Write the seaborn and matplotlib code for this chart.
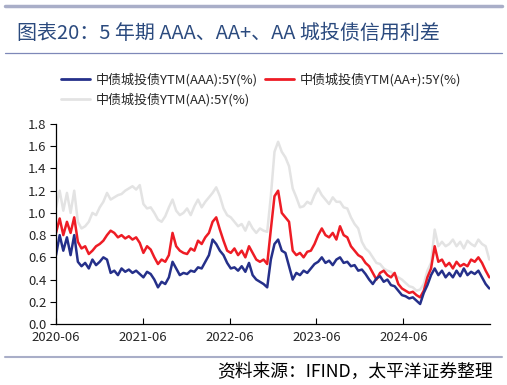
import pandas as pd
import matplotlib.pyplot as plt
import matplotlib.dates as mdates
import seaborn as sns

# semi-monthly readings, Jun 2020 -> May 2025 (2 per month)
aaa = [0.62, 0.80, 0.66, 0.78, 0.62, 0.80, 0.56, 0.52, 0.55, 0.50, 0.58, 0.53,
       0.56, 0.60, 0.58, 0.46, 0.48, 0.44, 0.50, 0.47, 0.49, 0.46, 0.48, 0.45,
       0.42, 0.47, 0.45, 0.40, 0.33, 0.38, 0.36, 0.42, 0.56, 0.50, 0.44, 0.46,
       0.45, 0.48, 0.47, 0.51, 0.50, 0.56, 0.62, 0.76, 0.72, 0.66, 0.62, 0.55,
       0.50, 0.51, 0.48, 0.52, 0.47, 0.55, 0.44, 0.40, 0.38, 0.36, 0.33, 0.58,
       0.72, 0.76, 0.66, 0.64, 0.52, 0.40, 0.46, 0.44, 0.48, 0.46, 0.50, 0.54,
       0.56, 0.60, 0.55, 0.57, 0.53, 0.58, 0.60, 0.55, 0.56, 0.52, 0.53, 0.48,
       0.49, 0.45, 0.40, 0.36, 0.41, 0.43, 0.38, 0.40, 0.35, 0.34, 0.30, 0.26,
       0.25, 0.23, 0.24, 0.21, 0.18, 0.28, 0.35, 0.44, 0.50, 0.44, 0.48, 0.42,
       0.46, 0.42, 0.48, 0.43, 0.50, 0.44, 0.47, 0.45, 0.48, 0.42, 0.36, 0.32]

aa_plus = [0.82, 0.95, 0.80, 0.92, 0.82, 0.96, 0.74, 0.68, 0.70, 0.63, 0.66, 0.70,
           0.72, 0.75, 0.80, 0.84, 0.82, 0.78, 0.80, 0.77, 0.79, 0.76, 0.78, 0.73,
           0.64, 0.70, 0.67, 0.60, 0.54, 0.58, 0.56, 0.62, 0.82, 0.70, 0.66, 0.64,
           0.63, 0.68, 0.66, 0.75, 0.72, 0.78, 0.82, 0.92, 0.96, 0.85, 0.75, 0.66,
           0.64, 0.68, 0.62, 0.66, 0.60, 0.70, 0.64, 0.58, 0.56, 0.58, 0.54, 0.85,
           1.15, 1.20, 1.00, 0.96, 0.92, 0.66, 0.62, 0.64, 0.60, 0.65, 0.66, 0.72,
           0.80, 0.86, 0.80, 0.78, 0.82, 0.76, 0.88, 0.80, 0.78, 0.70, 0.66, 0.62,
           0.60, 0.55, 0.52, 0.46, 0.40, 0.46, 0.48, 0.44, 0.42, 0.46, 0.36, 0.32,
           0.30, 0.28, 0.29, 0.26, 0.24, 0.30, 0.42, 0.50, 0.70, 0.56, 0.58, 0.52,
           0.55, 0.50, 0.56, 0.52, 0.54, 0.52, 0.58, 0.56, 0.60, 0.55, 0.48, 0.42]

aa = [1.05, 1.20, 1.02, 1.18, 1.00, 1.20, 0.92, 0.86, 0.88, 0.92, 1.00, 0.98,
      1.05, 1.10, 1.18, 1.12, 1.14, 1.16, 1.17, 1.20, 1.22, 1.24, 1.21, 1.25,
      1.08, 1.04, 1.05, 1.00, 0.94, 0.92, 0.97, 1.05, 1.12, 1.02, 0.98, 1.00,
      1.04, 0.98, 1.06, 1.12, 1.05, 1.10, 1.14, 1.18, 1.23, 1.15, 1.04, 0.98,
      0.96, 0.92, 0.88, 0.90, 0.84, 0.92, 0.86, 0.82, 0.86, 0.84, 0.83, 1.15,
      1.55, 1.64, 1.55, 1.50, 1.42, 1.22, 1.14, 1.05, 1.06, 1.10, 1.08, 1.16,
      1.22, 1.16, 1.12, 1.08, 1.14, 1.10, 1.10, 1.05, 1.04, 0.96, 0.90, 0.86,
      0.74, 0.68, 0.65, 0.60, 0.55, 0.54, 0.50, 0.48, 0.47, 0.44, 0.42, 0.40,
      0.37, 0.34, 0.33, 0.30, 0.31, 0.36, 0.48, 0.55, 0.85, 0.70, 0.74, 0.70,
      0.72, 0.76, 0.70, 0.74, 0.68, 0.75, 0.72, 0.70, 0.76, 0.72, 0.70, 0.58]

names = ["中债城投债YTM(AAA):5Y(%)", "中债城投债YTM(AA+):5Y(%)", "中债城投债YTM(AA):5Y(%)"]
colors = ["#25308a", "#ee1c25", "#e3e3e3"]
tick_years = ["2020-06", "2021-06", "2022-06", "2023-06", "2024-06"]

dates = pd.date_range("2020-06-01", "2025-05-28", periods=len(aaa))
df = pd.DataFrame({"date": dates, names[0]: aaa, names[1]: aa_plus, names[2]: aa})
long = df.melt(id_vars="date", var_name="series", value_name="value")

sns.set_style("white")
plt.rcParams["font.family"] = ["Noto Sans CJK SC", "DejaVu Sans"]

fig = plt.figure(figsize=(5.07, 3.85), dpi=100)
ax = fig.add_axes([0.1105, 0.1584, 0.856, 0.5195])

sns.lineplot(data=long, x="date", y="value", hue="series",
             hue_order=[names[2], names[1], names[0]],
             palette=dict(zip(names, colors)), linewidth=1.8, ax=ax, legend=False)

ax.set_ylim(0, 1.8)
ax.set_yticks([i * 0.2 for i in range(10)])
ax.set_yticklabels([f"{i * 0.2:.1f}" for i in range(10)])
ax.set_xlim(pd.Timestamp("2020-06-01"), pd.Timestamp("2025-05-31"))
ax.set_xticks([pd.Timestamp(t + "-01") for t in tick_years])
ax.xaxis.set_major_formatter(mdates.DateFormatter("%Y-%m"))
ax.set_xlabel("")
ax.set_ylabel("")
sns.despine(ax=ax)
for s in ["left", "bottom"]:
    ax.spines[s].set_color("black")
    ax.spines[s].set_linewidth(0.9)
ax.tick_params(axis="y", direction="out", length=4, width=0.8, color="black",
               labelsize=9.5, pad=3, left=True)
ax.tick_params(axis="x", direction="in", length=4, width=0.8, color="black",
               labelsize=9.5, pad=5, bottom=True)

handles = [plt.Line2D([], [], color=c, linewidth=2) for c in colors]
order = [0, 2, 1]
fig.legend([handles[i] for i in order], [names[i] for i in order],
           loc="upper left", bbox_to_anchor=(0.098, 0.842), ncol=2, frameon=False,
           fontsize=9.4, handlelength=2.2, handletextpad=0.4, columnspacing=0.6,
           labelspacing=0.5)

# frame decorations
fig.add_artist(plt.Line2D([0.01, 0.99], [0.984, 0.984], color="#a9aec8", linewidth=2.5))
fig.add_artist(plt.Line2D([0.01, 0.99], [0.862, 0.862], color="#7e88b8", linewidth=0.9))
fig.add_artist(plt.Line2D([0.01, 0.99], [0.073, 0.073], color="#a9aec8", linewidth=1.5))
fig.text(0.034, 0.914, "图表20：5 年期 AAA、AA+、AA 城投债信用利差", fontsize=14.4,
         color="#2b4a7e", va="center", ha="left")
fig.text(0.972, 0.034, "资料来源：IFIND，太平洋证券整理", fontsize=12.8, style="italic",
         color="black", va="center", ha="right")

fig.savefig("out.png", dpi=100)
